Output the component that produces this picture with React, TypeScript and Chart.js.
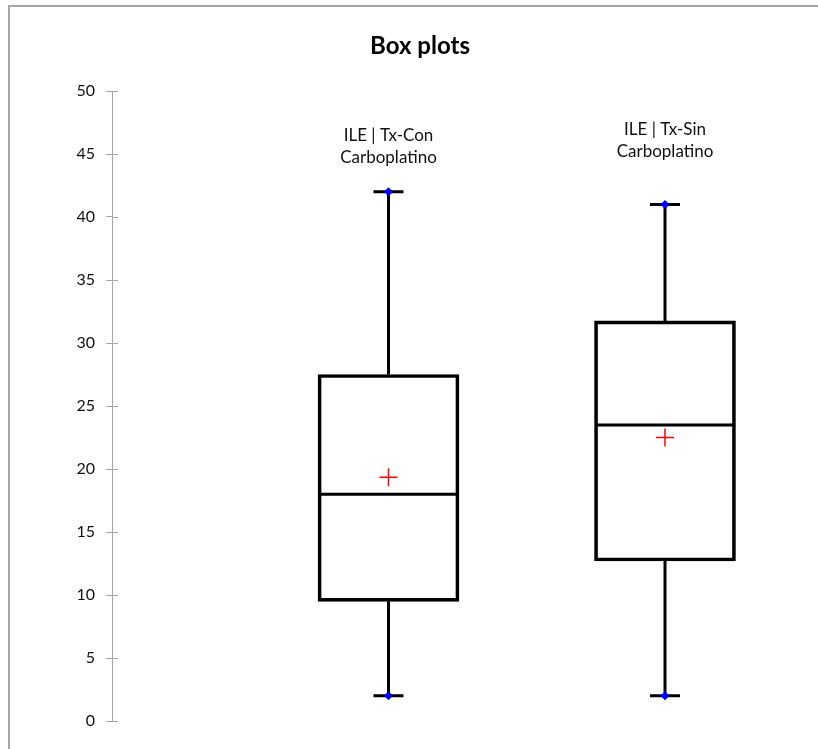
import React, { useEffect, useRef } from "react";
import { Chart, registerables } from "chart.js";

Chart.register(...registerables);

// ---- data ----
const categories: string[][] = [
  ["ILE | Tx-Con", "Carboplatino"],
  ["ILE | Tx-Sin", "Carboplatino"],
];
const positions = [1, 2];
const minimum = [2, 2];
const q1 = [9.5, 12.7];
const median = [18, 23.5];
const q3 = [27.5, 31.75];
const maximum = [42, 41];
const mean = [19.35, 22.5];
const yMin = 0;
const yMax = 50;
const yStep = 5;
const title = "Box plots";

const FONT = "Lato, 'Open Sans', sans-serif";

const boxPlugin = {
  id: "boxParts",
  beforeDraw(chart: any) {
    const ctx = chart.ctx;
    ctx.save();
    ctx.fillStyle = "#ffffff";
    ctx.fillRect(0, 0, chart.width, chart.height);
    // outer frame (top and left visible)
    ctx.strokeStyle = "#a6a6a6";
    ctx.lineWidth = 2;
    ctx.beginPath();
    ctx.moveTo(9, chart.height);
    ctx.lineTo(9, 6);
    ctx.lineTo(chart.width, 6);
    ctx.stroke();
    // title
    ctx.fillStyle = "#000000";
    ctx.font = `bold 24px ${FONT}`;
    ctx.textAlign = "center";
    ctx.textBaseline = "alphabetic";
    ctx.fillText(title, 420, 54);
    ctx.restore();
  },
  beforeDatasetsDraw(chart: any) {
    const ctx = chart.ctx;
    const xs = chart.scales.x;
    const ys = chart.scales.y;
    const labelY = [136, 130];
    ctx.save();
    ctx.strokeStyle = "#000000";
    ctx.lineWidth = 3;
    ctx.lineCap = "butt";
    positions.forEach((p, i) => {
      const x = xs.getPixelForValue(p);
      const yMaxP = ys.getPixelForValue(maximum[i]);
      const yMinP = ys.getPixelForValue(minimum[i]);
      const yQ1 = ys.getPixelForValue(q1[i]);
      const yQ3 = ys.getPixelForValue(q3[i]);
      const yMed = ys.getPixelForValue(median[i]);
      ctx.beginPath();
      // whiskers
      ctx.moveTo(x, yQ3);
      ctx.lineTo(x, yMaxP);
      ctx.moveTo(x, yQ1);
      ctx.lineTo(x, yMinP);
      // caps
      ctx.moveTo(x - 15, yMaxP);
      ctx.lineTo(x + 15, yMaxP);
      ctx.moveTo(x - 15, yMinP);
      ctx.lineTo(x + 15, yMinP);
      // median
      ctx.moveTo(x - 69, yMed);
      ctx.lineTo(x + 69, yMed);
      ctx.stroke();

      // category label
      ctx.fillStyle = "#111111";
      ctx.font = `17px ${FONT}`;
      ctx.textAlign = "center";
      ctx.textBaseline = "middle";
      categories[i].forEach((line, j) => {
        ctx.fillText(line, x, labelY[i] + j * 22);
      });
    });
    ctx.restore();
  },
  afterDraw(chart: any) {
    // inner half of y-axis tick marks (ticks cross the axis)
    const ctx = chart.ctx;
    const ys = chart.scales.y;
    const left = chart.chartArea.left;
    ctx.save();
    ctx.strokeStyle = "#a6a6a6";
    ctx.lineWidth = 1;
    ys.ticks.forEach((t: any) => {
      const y = Math.round(ys.getPixelForValue(t.value)) + 0.5;
      ctx.beginPath();
      ctx.moveTo(left, y);
      ctx.lineTo(left + 6, y);
      ctx.stroke();
    });
    ctx.restore();
  },
};

export default function App() {
  const ref = useRef<HTMLCanvasElement | null>(null);

  useEffect(() => {
    if (!ref.current) return;
    const chart = new Chart(ref.current, {
      type: "bar",
      data: {
        datasets: [
          {
            type: "bar",
            label: "box",
            data: positions.map((x, i) => ({ x, y: [q1[i], q3[i]] })) as any,
            backgroundColor: "rgba(0,0,0,0)",
            borderColor: "#000000",
            borderWidth: 3,
            borderSkipped: false,
            barThickness: 141,
          } as any,
          {
            type: "scatter",
            label: "extremes",
            data: positions.flatMap((x, i) => [
              { x, y: minimum[i] },
              { x, y: maximum[i] },
            ]),
            pointStyle: "rectRot",
            pointRadius: 4.5,
            backgroundColor: "#0000ff",
            borderColor: "#0000ff",
            borderWidth: 0,
          } as any,
          {
            type: "scatter",
            label: "mean",
            data: positions.map((x, i) => ({ x, y: mean[i] })),
            pointStyle: "cross",
            pointRadius: 9,
            borderColor: "#ff0000",
            borderWidth: 1.5,
          } as any,
        ],
      },
      options: {
        responsive: false,
        animation: false,
        layout: { padding: { top: 91, bottom: 28, left: 0, right: 14.75 } },
        plugins: {
          legend: { display: false },
          tooltip: { enabled: false },
          title: { display: false },
        },
        scales: {
          x: {
            type: "linear",
            min: 0,
            max: 2.5,
            offset: false,
            display: false,
          },
          y: {
            type: "linear",
            min: yMin,
            max: yMax,
            ticks: {
              stepSize: yStep,
              color: "#111111",
              font: { family: FONT, size: 16 },
              padding: 11,
            },
            grid: {
              drawOnChartArea: false,
              drawTicks: true,
              tickLength: 6,
              color: "#a6a6a6",
              lineWidth: 1,
            },
            border: { display: true, color: "#a6a6a6", width: 1 },
            afterFit: (scale: any) => {
              scale.width = 112;
            },
          },
        },
      } as any,
      plugins: [boxPlugin],
    });
    return () => chart.destroy();
  }, []);

  return (
    <canvas
      ref={ref}
      width={818}
      height={749}
      style={{ position: "absolute", left: 0, top: 0, display: "block" }}
    />
  );
}
